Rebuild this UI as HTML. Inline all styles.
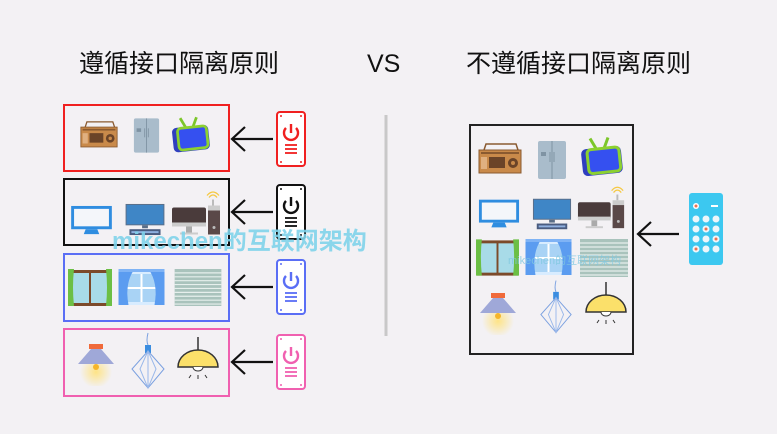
<!DOCTYPE html>
<html><head><meta charset="utf-8"><style>
html,body{margin:0;padding:0;background:#f3f1f4;}
body{width:777px;height:434px;position:relative;overflow:hidden;font-family:"Liberation Sans","Noto Sans CJK SC",sans-serif;}
svg{position:absolute;left:0;top:0;}
</style></head><body>
<svg width="777" height="434" viewBox="0 0 777 434" xmlns="http://www.w3.org/2000/svg">
<defs>
<symbol id="radio" viewBox="0 0 44 32">
 <path d="M6 8 L8 2 L38 2 L40 8" fill="none" stroke="#8a5a30" stroke-width="1.5"/>
 <rect x="1" y="8" width="42" height="23" fill="#c98a4a" stroke="#8a5a30"/>
 <rect x="3" y="10" width="38" height="2" fill="#8a5a30"/>
 <rect x="11" y="15" width="16" height="11" fill="#6b4428"/>
 <circle cx="35" cy="21" r="5" fill="#6b4428"/><circle cx="35" cy="21" r="2" fill="#c98a4a"/>
 <rect x="3" y="15" width="6" height="12" fill="#e0b080"/>
</symbol>
<symbol id="fridge" viewBox="0 0 30 40">
 <rect x="1" y="1" width="28" height="38" rx="2" fill="#a9bccb"/>
 <line x1="15" y1="1" x2="15" y2="39" stroke="#7f93a3"/>
 <rect x="4" y="12" width="5" height="4" fill="#7f93a3"/>
 <line x1="13" y1="12" x2="13" y2="22" stroke="#7f93a3"/><line x1="17" y1="12" x2="17" y2="22" stroke="#7f93a3"/>
</symbol>
<symbol id="tv" viewBox="0 0 44 40">
 <line x1="16" y1="12" x2="10" y2="2" stroke="#7cc62a" stroke-width="3"/>
 <line x1="24" y1="12" x2="28" y2="1" stroke="#7cc62a" stroke-width="3"/>
 <rect x="2" y="11" width="40" height="27" rx="5" fill="#2f3fbf" transform="rotate(-6 22 25)"/>
 <rect x="8" y="12" width="32" height="24" rx="4" fill="#3550f0" stroke="#8cd130" stroke-width="3" transform="rotate(-6 22 25)"/>
</symbol>
<symbol id="mon1" viewBox="0 0 44 32">
 <rect x="1" y="1" width="42" height="24" fill="#2f8de0"/>
 <rect x="4" y="4" width="36" height="18" fill="#f4f6fa"/>
 <path d="M16 25 L28 25 L30 30 L14 30Z" fill="#2f8de0"/>
</symbol>
<symbol id="mon2" viewBox="0 0 42 34">
 <rect x="1" y="1" width="40" height="22" fill="#5a6e88"/>
 <rect x="2" y="2" width="38" height="20" fill="#3f86c6"/>
 <rect x="18" y="23" width="6" height="3" fill="#5a6e88"/>
 <rect x="5" y="27" width="32" height="6" fill="#4a5c80"/>
 <rect x="7" y="29" width="28" height="2" fill="#8fb0e0"/>
</symbol>
<symbol id="pc" viewBox="0 0 52 46">
 <path d="M38 8 Q42 3 46 8" fill="none" stroke="#f5c842" stroke-width="1.3"/>
 <path d="M36 6 Q42 -1 48 6" fill="none" stroke="#f5c842" stroke-width="1.3"/>
 <rect x="41" y="10" width="2" height="6" fill="#bbb"/>
 <rect x="1" y="18" width="34" height="18" rx="2" fill="#4a3b3b"/>
 <rect x="1" y="33" width="34" height="4" fill="#ccc"/>
 <rect x="15" y="37" width="6" height="6" fill="#aaa"/>
 <rect x="9" y="43" width="18" height="2" fill="#ccc"/>
 <rect x="37" y="16" width="12" height="5" fill="#ccc"/>
 <rect x="37" y="21" width="12" height="24" fill="#5a4848"/>
 <circle cx="43" cy="38" r="1.5" fill="#bbb"/>
</symbol>
<symbol id="win1" viewBox="0 0 44 38">
 <rect x="1" y="1" width="42" height="36" fill="#7c4a2a"/>
 <rect x="4" y="4" width="17" height="30" fill="#a8dbe8"/>
 <rect x="23" y="4" width="17" height="30" fill="#a8dbe8"/>
 <path d="M0 0 L6 0 Q4 18 6 37 L0 37Z" fill="#6cbf45"/>
 <path d="M44 0 L38 0 Q40 18 38 37 L44 37Z" fill="#6cbf45"/>
</symbol>
<symbol id="win2" viewBox="0 0 46 38">
 <rect x="6" y="2" width="34" height="34" fill="#d8ecff"/>
 <rect x="9" y="5" width="28" height="28" fill="#a9d3f5"/>
 <line x1="23" y1="5" x2="23" y2="33" stroke="#fff" stroke-width="2"/>
 <line x1="9" y1="19" x2="37" y2="19" stroke="#fff" stroke-width="2"/>
 <path d="M0 0 L16 0 Q6 14 10 36 L0 36Z" fill="#5b9cf0"/>
 <path d="M46 0 L30 0 Q40 14 36 36 L46 36Z" fill="#5b9cf0"/>
 <rect x="0" y="0" width="46" height="3" fill="#7fb3f5"/>
</symbol>
<symbol id="blind" viewBox="0 0 48 38">
 <rect x="0" y="0" width="48" height="38" fill="#a9c3bc"/>
 <g stroke="#e6efec" stroke-width="1.2">
 <line x1="0" y1="4" x2="48" y2="4"/><line x1="0" y1="8" x2="48" y2="8"/><line x1="0" y1="12" x2="48" y2="12"/>
 <line x1="0" y1="16" x2="48" y2="16"/><line x1="0" y1="20" x2="48" y2="20"/><line x1="0" y1="24" x2="48" y2="24"/>
 <line x1="0" y1="28" x2="48" y2="28"/><line x1="0" y1="32" x2="48" y2="32"/><line x1="0" y1="36" x2="48" y2="36"/></g>
</symbol>
<radialGradient id="glow"><stop offset="0" stop-color="#ffe27a" stop-opacity=".9"/><stop offset="1" stop-color="#ffe27a" stop-opacity="0"/></radialGradient>
<symbol id="lamp1" viewBox="0 0 44 50">
 <circle cx="22" cy="36" r="16" fill="url(#glow)"/>
 <rect x="15" y="8" width="14" height="5" fill="#f06a3a"/>
 <path d="M17 13 L27 13 L40 28 L4 28Z" fill="#9fa8d8"/>
 <circle cx="22" cy="31" r="3" fill="#f5b52a"/>
</symbol>
<symbol id="lamp2" viewBox="0 0 36 56">
 <path d="M18 0 Q16 8 18 12" stroke="#7aa0e0" fill="none"/>
 <rect x="15" y="12" width="6" height="8" fill="#3b8de0"/>
 <path d="M18 18 L34 36 L18 55 L2 36Z" fill="none" stroke="#7aa0e0"/>
 <path d="M18 18 L26 36 L18 55 L10 36Z M18 18 L18 55" fill="none" stroke="#9ab8ea"/>
</symbol>
<symbol id="lamp3" viewBox="0 0 44 50">
 <line x1="22" y1="0" x2="22" y2="14" stroke="#333" stroke-width="1.5"/>
 <path d="M2 30 A20 17 0 0 1 42 30Z" fill="#fbe06a" stroke="#333" stroke-width="1.5"/>
 <path d="M17 30 A5 4 0 0 0 27 30" fill="#fff" stroke="#333"/>
 <path d="M15 38 L13 41 M22 38 L22 42 M29 38 L31 41" stroke="#333"/>
</symbol>
<symbol id="power" viewBox="0 0 30 56">
 <rect x="1" y="1" width="28" height="54" rx="3" fill="#fff" stroke="currentColor" stroke-width="2"/>
 <circle cx="5" cy="5" r="1" fill="currentColor"/><circle cx="25" cy="5" r="1" fill="currentColor"/>
 <circle cx="5" cy="51" r="1" fill="currentColor"/><circle cx="25" cy="51" r="1" fill="currentColor"/>
 <path d="M10 17 A7 7 0 1 0 20 17" fill="none" stroke="currentColor" stroke-width="2.4"/>
 <line x1="15" y1="13" x2="15" y2="22" stroke="currentColor" stroke-width="2.4"/>
 <g stroke="currentColor" stroke-width="1.8"><line x1="9" y1="34" x2="21" y2="34"/><line x1="9" y1="38" x2="21" y2="38"/><line x1="9" y1="42" x2="21" y2="42"/></g>
</symbol>
<symbol id="arrow" viewBox="0 0 46 30">
 <path d="M44 15 L4 15 M16 3 L3 15 L16 27" fill="none" stroke="#111" stroke-width="2.2"/>
</symbol>
</defs>

<g font-family="Liberation Sans, Noto Sans CJK SC, sans-serif" fill="#111" font-size="25">
<text x="79" y="72">遵循接口隔离原则</text>
<text x="367" y="72">VS</text>
<text x="466" y="72">不遵循接口隔离原则</text>
</g>

<line x1="386" y1="115" x2="386" y2="336" stroke="#c8c8c8" stroke-width="3"/>

<!-- left boxes -->
<rect x="64" y="105" width="165" height="66" fill="none" stroke="#f02020" stroke-width="2"/>
<rect x="64" y="179" width="165" height="66" fill="none" stroke="#111" stroke-width="2"/>
<rect x="64" y="254" width="165" height="67" fill="none" stroke="#5a6ef5" stroke-width="2"/>
<rect x="64" y="329" width="165" height="67" fill="none" stroke="#f060b0" stroke-width="2"/>

<use href="#radio" x="80" y="119" width="38" height="30"/>
<use href="#fridge" x="133" y="117" width="27" height="37"/>
<use href="#tv" x="171" y="116" width="40" height="37"/>
<use href="#mon1" x="70" y="205" width="43" height="31"/>
<use href="#mon2" x="124" y="203" width="42" height="33"/>
<use href="#pc" x="171" y="189" width="52" height="47"/>
<use href="#win1" x="68" y="269" width="44" height="38"/>
<use href="#win2" x="118" y="269" width="47" height="38"/>
<use href="#blind" x="174" y="269" width="48" height="37"/>
<use href="#lamp1" x="74" y="336" width="44" height="50"/>
<use href="#lamp2" x="130" y="332" width="36" height="58"/>
<use href="#lamp3" x="176" y="337" width="44" height="50"/>

<use href="#arrow" x="229" y="124" width="46" height="30"/>
<use href="#arrow" x="229" y="197" width="46" height="30"/>
<use href="#arrow" x="229" y="272" width="46" height="30"/>
<use href="#arrow" x="229" y="347" width="46" height="30"/>

<use href="#power" x="276" y="111" width="30" height="56" style="color:#f02020"/>
<use href="#power" x="276" y="184" width="30" height="56" style="color:#111"/>
<use href="#power" x="276" y="259" width="30" height="56" style="color:#5a6ef5"/>
<use href="#power" x="276" y="334" width="30" height="56" style="color:#f060b0"/>

<!-- right -->
<rect x="470" y="125" width="163" height="229" fill="none" stroke="#222" stroke-width="2"/>
<use href="#radio" x="478" y="141" width="44" height="34"/>
<use href="#fridge" x="537" y="139" width="30" height="42"/>
<use href="#tv" x="580" y="136" width="44" height="41"/>
<use href="#mon1" x="478" y="198" width="42" height="32"/>
<use href="#mon2" x="532" y="197" width="40" height="34"/>
<use href="#pc" x="577" y="183" width="50" height="48"/>
<use href="#win1" x="476" y="239" width="43" height="38"/>
<use href="#win2" x="525" y="239" width="47" height="38"/>
<use href="#blind" x="580" y="239" width="48" height="38"/>
<use href="#lamp1" x="476" y="285" width="44" height="50"/>
<use href="#lamp2" x="539" y="278" width="34" height="58"/>
<use href="#lamp3" x="584" y="282" width="44" height="50"/>
<use href="#arrow" x="634" y="219" width="48" height="30"/>

<rect x="689" y="193" width="34" height="72" rx="3" fill="#3cc8f0"/>
<circle cx="696" cy="206" r="3" fill="#fff"/><circle cx="696" cy="206" r="1.5" fill="#f07050"/>
<rect x="711" y="205" width="7" height="2" fill="#fff"/>
<g fill="#eef6fa">
<circle cx="696" cy="219" r="3.5"/><circle cx="706" cy="219" r="3.5"/><circle cx="716" cy="219" r="3.5"/>
<circle cx="696" cy="229" r="3.5"/><circle cx="706" cy="229" r="3.5"/><circle cx="716" cy="229" r="3.5"/>
<circle cx="696" cy="239" r="3.5"/><circle cx="706" cy="239" r="3.5"/><circle cx="716" cy="239" r="3.5"/>
<circle cx="696" cy="249" r="3.5"/><circle cx="706" cy="249" r="3.5"/><circle cx="716" cy="249" r="3.5"/>
</g>
<g fill="#f07050"><circle cx="706" cy="229" r="1.5"/><circle cx="716" cy="239" r="1.5"/><circle cx="696" cy="249" r="1.5"/></g>

<text x="112" y="249" font-family="Liberation Sans, Noto Sans CJK SC, sans-serif" font-weight="bold" font-size="24" fill="#7fd3ea" fill-opacity="0.9">mikechen的互联网架构</text>
<text x="508" y="264" font-family="Liberation Sans, Noto Sans CJK SC, sans-serif" font-size="11" fill="#7fc8e0" fill-opacity="0.8">mikechen的互联网架构</text>
</svg>
</body></html>
